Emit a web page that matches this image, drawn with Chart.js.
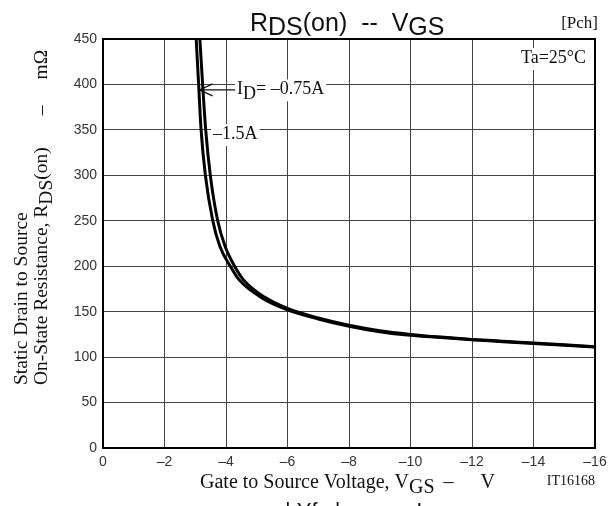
<!DOCTYPE html>
<html>
<head>
<meta charset="utf-8">
<script src="https://cdn.jsdelivr.net/npm/chart.js@4"></script>
<style>
  html, body { margin: 0; padding: 0; background: #fff; }
  #wrap { width: 609px; height: 506px; }
</style>
</head>
<body>
<div id="wrap"><canvas id="rdsChart" width="609" height="506"></canvas></div>
<script>
// Curve data (VGS in V, RDS(on) in mOhm)
const vgs075 = [-3.03, -3.11, -3.19, -3.33, -3.57, -3.80, -4.14, -4.43, -5.13, -6, -7, -8, -9, -10, -11, -12, -13, -14, -15, -16];
const rds075 = [450, 400, 350, 300, 250, 222, 200, 185, 166, 152, 142, 134, 128, 124, 121.5, 119, 117, 115, 113, 111];
const vgs15 = [-3.15, -3.24, -3.34, -3.49, -3.73, -3.97, -4.28, -4.57, -5.25, -6, -7, -8, -9, -10, -11, -12, -13, -14, -15, -16];
const rds15 = [450, 400, 350, 300, 250, 222, 200, 185, 166, 153.5, 143, 135, 129, 125, 122, 119.5, 117.5, 115.5, 113.5, 111.5];

const xTicks = [0, -2, -4, -6, -8, -10, -12, -14, -16];
const yTicks = [0, 50, 100, 150, 200, 250, 300, 350, 400, 450];

const SANS = '"Liberation Sans", Arial, sans-serif';
const SERIF = '"Liberation Serif", "Times New Roman", serif';

function toPoints(xs, ys) {
    return xs.map((x, i) => ({ x: x, y: ys[i] }));
}

// draw a run of text pieces; a piece may drop down (subscript) or just be a gap
function drawRich(ctx, x, y, parts, align, bg) {
    let total = 0;
    parts.forEach(p => {
        if (p.gap) { total += p.gap; return; }
        ctx.font = p.font; total += ctx.measureText(p.t).width;
    });
    let cx = align === 'right' ? x - total : align === 'center' ? x - total / 2 : x;
    if (bg) {
        ctx.fillStyle = '#fff';
        ctx.fillRect(cx - 2, y - 15, total + 4, 22);
    }
    ctx.fillStyle = '#111';
    ctx.textBaseline = 'alphabetic';
    ctx.textAlign = 'left';
    parts.forEach(p => {
        if (p.gap) { cx += p.gap; return; }
        ctx.font = p.font;
        ctx.fillText(p.t, cx, y + (p.dy || 0));
        cx += ctx.measureText(p.t).width;
    });
}

const textPlugin = {
    id: 'textPlugin',
    afterDraw(chart) {
        const ctx = chart.ctx;
        const a = chart.chartArea;
        const xs = chart.scales.x, ys = chart.scales.y;
        ctx.save();

        // frame
        ctx.strokeStyle = '#000';
        ctx.lineWidth = 2;
        ctx.strokeRect(a.left, a.top, a.right - a.left, a.bottom - a.top);

        // title
        const tf = '25px ' + SANS;
        drawRich(ctx, 250, 31, [
            { t: 'R', font: tf }, { t: 'DS', font: tf, dy: 4 }, { t: '(on)  --  V', font: tf },
            { t: 'GS', font: tf, dy: 4 }
        ], 'left');
        drawRich(ctx, 598, 28, [{ t: '[Pch]', font: '17px ' + SERIF }], 'right');
        drawRich(ctx, 586, 63, [{ t: 'Ta=25°C', font: '18px ' + SERIF }], 'right', true);

        // curve labels
        const lf = '18px ' + SERIF;
        const ax = xs.getPixelForValue(-4.3), ay = ys.getPixelForValue(394);
        const tipX = xs.getPixelForValue(-3.14);
        drawRich(ctx, xs.getPixelForValue(-4.36), ys.getPixelForValue(389), [
            { t: 'I', font: lf }, { t: 'D', font: lf, dy: 5 }, { t: '= \u20130.75A', font: lf }
        ], 'left', true);
        ctx.strokeStyle = '#111';
        ctx.lineWidth = 1.2;
        ctx.beginPath();
        ctx.moveTo(ax, ay);
        ctx.lineTo(tipX, ay);
        ctx.moveTo(tipX + 13, ay - 6);
        ctx.lineTo(tipX, ay);
        ctx.lineTo(tipX + 13, ay + 6);
        ctx.stroke();
        drawRich(ctx, xs.getPixelForValue(-3.58), ys.getPixelForValue(340), [
            { t: '\u20131.5A', font: lf }
        ], 'left', true);

        // x axis title
        const xf = '20px ' + SERIF;
        drawRich(ctx, 200, 488, [
            { t: 'Gate to Source Voltage, V', font: xf }, { t: 'GS', font: xf, dy: 5 },
            { gap: 9 }, { t: '\u2013', font: xf }, { gap: 27 }, { t: 'V', font: xf }
        ], 'left');
        drawRich(ctx, 595, 485, [{ t: 'IT16168', font: '14px ' + SERIF }], 'right');

        // y axis title (two lines, rotated)
        const yf = '19.5px ' + SERIF;
        ctx.translate(27, 385);
        ctx.rotate(-Math.PI / 2);
        drawRich(ctx, 0, 0, [{ t: 'Static Drain to Source', font: yf }], 'left');
        drawRich(ctx, 0, 20, [
            { t: 'On-State Resistance, R', font: yf }, { t: 'DS', font: yf, dy: 5 },
            { t: '(on)', font: yf }, { gap: 32 }, { t: '\u2013', font: yf }, { gap: 26 },
            { t: 'm\u03A9', font: yf }
        ], 'left');
        ctx.setTransform(1, 0, 0, 1, 0, 0);

        // top of the next chart's title, cut off by the page edge
        drawRich(ctx, 285, 518, [{ t: '| Yfs |     --     I', font: '22px ' + SANS }], 'left');
        ctx.restore();
    }
};

new Chart(document.getElementById('rdsChart'), {
    type: 'scatter',
    data: {
        datasets: [
            {
                label: 'ID = -0.75A',
                data: toPoints(vgs075, rds075),
                showLine: true,
                borderColor: '#000',
                borderWidth: 3,
                pointRadius: 0,
                cubicInterpolationMode: 'monotone'
            },
            {
                label: 'ID = -1.5A',
                data: toPoints(vgs15, rds15),
                showLine: true,
                borderColor: '#000',
                borderWidth: 3,
                pointRadius: 0,
                cubicInterpolationMode: 'monotone'
            }
        ]
    },
    options: {
        responsive: false,
        animation: false,
        devicePixelRatio: 1,
        layout: { padding: { top: 39, right: 14, left: 0, bottom: 0 } },
        plugins: {
            legend: { display: false },
            tooltip: { enabled: false },
            title: { display: false }
        },
        scales: {
            x: {
                type: 'linear',
                min: -16,
                max: 0,
                reverse: true,
                afterFit: s => { s.height = 58; s.paddingLeft = 0; s.paddingRight = 0; },
                afterBuildTicks: s => { s.ticks = xTicks.map(v => ({ value: v })); },
                ticks: {
                    padding: 6,
                    color: '#333',
                    font: { family: SANS, size: 14 },
                    callback: v => v === 0 ? '0' : '\u2013' + Math.abs(v)
                },
                grid: { color: '#444', lineWidth: 1, drawTicks: false },
                border: { color: '#000', width: 2 }
            },
            y: {
                min: 0,
                max: 450,
                afterFit: s => { s.width = 103; },
                afterBuildTicks: s => { s.ticks = yTicks.map(v => ({ value: v })); },
                ticks: {
                    padding: 6,
                    color: '#333',
                    font: { family: SANS, size: 14 }
                },
                grid: { color: '#444', lineWidth: 1, drawTicks: false },
                border: { color: '#000', width: 2 }
            }
        }
    },
    plugins: [textPlugin]
});
</script>
</body>
</html>
